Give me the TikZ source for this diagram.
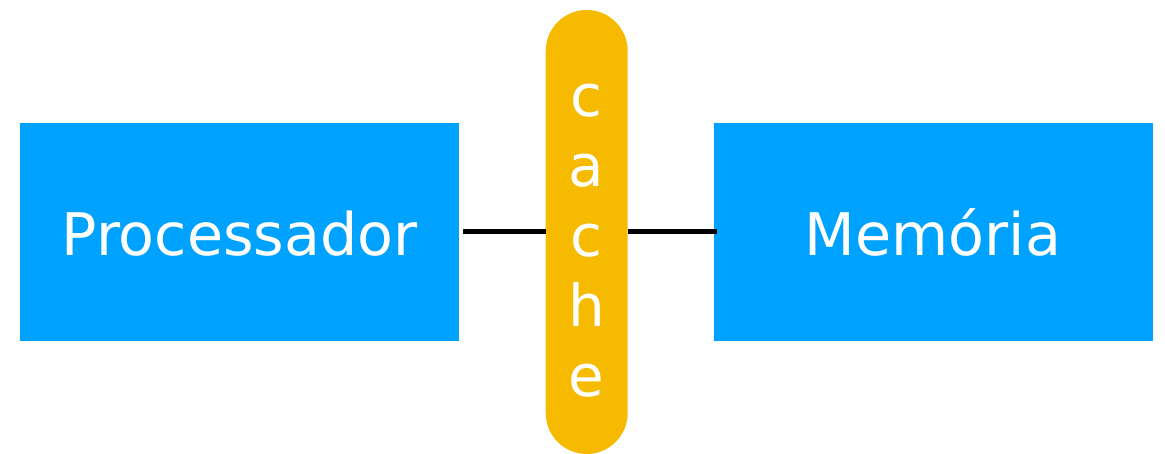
\documentclass[tikz,border=0pt]{standalone}
\usepackage{fontspec}
\setmainfont{DejaVu Sans}
\definecolor{unitblue}{HTML}{00A2FF}
\definecolor{cacheyellow}{HTML}{F6BA00}
\begin{document}
\begin{tikzpicture}[x=1pt,y=-1pt,
  unit/.style={fill=unitblue,draw=none,minimum width=439pt,minimum height=218pt,
    inner sep=0pt,text=white,text height=48pt,text depth=0pt,
    font=\fontsize{58.7}{70}\selectfont},
  cachebar/.style={fill=cacheyellow,draw=none,rounded corners=41pt,
    minimum width=82pt,minimum height=444pt,inner sep=0pt},
  cachetext/.style={text=white,align=center,inner sep=0pt,
    font=\fontsize{58}{70}\selectfont},
  link/.style={draw=black,line width=5pt}]
\useasboundingbox (0,0) rectangle (1165,454);
\node[unit] (proc) at (239.7,232) {Processador};
\node[unit] (mem) at (933,232) {Memória};
\node[cachebar] (cache) at (586.7,232) {};
% letters stacked one per line, last baseline fixed
\node[cachetext,anchor=base] (word) at (586.7,396.7) {c\\a\\c\\h\\e};
\draw[link] ([xshift=4pt]proc.east) -- (cache.west);
\draw[link] (cache.east) -- ([xshift=3.5pt]mem.west);
\end{tikzpicture}
\end{document}
